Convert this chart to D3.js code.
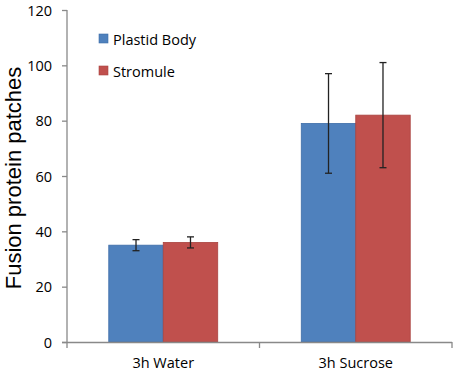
<!DOCTYPE html>
<html lang="en">
    <head>
        <meta charset="utf-8">
        <title>Fusion protein patches</title>
        <script src="https://d3js.org/d3.v7.min.js"></script>
        <style type="text/css">
            body { margin: 0; background: #fff; }
            .tick-label { font-family: "Open Sans", sans-serif; font-size: 14.5px; fill: #000; }
            .legend-label { font-family: "Open Sans", sans-serif; font-size: 14.5px; fill: #000; }
            .y-title { font-family: "Liberation Sans", Arial, sans-serif; font-size: 22px; fill: #000; }
        </style>
    </head>
    <body>
        <svg width="454" height="372"></svg>
        <script type="text/javascript">

            // data
            const categories = ["3h Water", "3h Sucrose"];
            const seriesNames = ["Plastid Body", "Stromule"];
            const plastidBody = [35, 79];
            const stromule = [36, 82];
            const plastidErr = [2, 18];
            const stromuleErr = [2, 19];
            const yTicks = [0, 20, 40, 60, 80, 100, 120];

            const colors = ["#4F81BD", "#C0504D"];
            const borders = ["#3F6EA8", "#A94440"];
            const axisColor = "#898989";

            const svg = d3.select("svg");
            const plotLeft = 67, plotRight = 452, plotTop = 10, plotBottom = 342;

            // build rows for drawing
            const values = [plastidBody, stromule];
            const errors = [plastidErr, stromuleErr];
            const rows = [];
            categories.forEach((c, ci) => {
                seriesNames.forEach((s, si) => {
                    rows.push({cat: c, series: s, si: si, value: values[si][ci], err: errors[si][ci]});
                });
            });

            const xScale = d3.scaleBand()
                             .domain(categories)
                             .range([plotLeft, plotRight])
                             .paddingInner(0.434)
                             .paddingOuter(0.217);

            const xSub = d3.scaleBand()
                           .domain(seriesNames)
                           .range([0, xScale.bandwidth()]);

            const yScale = d3.scaleLinear()
                             .domain([0, 120])
                             .range([plotBottom, plotTop]);

            // y axis
            const yAxis = svg.append("g")
                             .attr("transform", `translate(${plotLeft},0)`)
                             .call(d3.axisLeft(yScale).tickValues(yTicks).tickSize(5).tickFormat(d3.format("d")));
            yAxis.attr("font-size", null).attr("font-family", null);
            yAxis.select(".domain").attr("stroke", axisColor).attr("stroke-width", 1.3)
                 .attr("d", `M0,${plotTop}V${plotBottom}`);
            yAxis.selectAll(".tick line").attr("stroke", axisColor).attr("stroke-width", 1.3);
            yAxis.selectAll(".tick text")
                 .attr("class", "tick-label")
                 .attr("x", -15)
                 .attr("dy", "0.36em");

            // bars
            svg.append("g")
               .selectAll("rect")
               .data(rows)
               .enter()
               .append("rect")
               .attr("x", d => xScale(d.cat) + xSub(d.series))
               .attr("y", d => yScale(d.value))
               .attr("width", xSub.bandwidth())
               .attr("height", d => yScale(0) - yScale(d.value))
               .attr("fill", d => colors[d.si])
               .attr("stroke", d => borders[d.si])
               .attr("stroke-width", 0.8);

            // error bars
            const eb = svg.append("g")
                          .selectAll("g")
                          .data(rows)
                          .enter()
                          .append("g")
                          .attr("stroke", "#222")
                          .attr("stroke-width", 1.3);
            const cx = d => xScale(d.cat) + xSub(d.series) + xSub.bandwidth() / 2;
            eb.append("line")
              .attr("x1", cx).attr("x2", cx)
              .attr("y1", d => yScale(d.value + d.err))
              .attr("y2", d => yScale(d.value - d.err));
            eb.append("line")
              .attr("x1", d => cx(d) - 3.5).attr("x2", d => cx(d) + 3.5)
              .attr("y1", d => yScale(d.value + d.err))
              .attr("y2", d => yScale(d.value + d.err));
            eb.append("line")
              .attr("x1", d => cx(d) - 3.5).attr("x2", d => cx(d) + 3.5)
              .attr("y1", d => yScale(d.value - d.err))
              .attr("y2", d => yScale(d.value - d.err));

            // x axis (category boundaries get ticks, like excel)
            const xg = svg.append("g").attr("stroke", axisColor).attr("stroke-width", 1.3);
            xg.append("line")
              .attr("x1", plotLeft - 5).attr("x2", plotRight)
              .attr("y1", plotBottom + 0.5).attr("y2", plotBottom + 0.5);
            const step = xScale.step();
            const bounds = [plotLeft, plotLeft + step, plotLeft + 2 * step];
            xg.selectAll(".xt")
              .data(bounds)
              .enter()
              .append("line")
              .attr("x1", d => d).attr("x2", d => d)
              .attr("y1", plotBottom).attr("y2", plotBottom + 6);

            svg.append("g")
               .selectAll("text")
               .data(categories)
               .enter()
               .append("text")
               .attr("class", "tick-label")
               .attr("x", d => xScale(d) + xScale.bandwidth() / 2)
               .attr("y", 368)
               .attr("text-anchor", "middle")
               .text(d => d);

            // y title
            svg.append("text")
               .attr("class", "y-title")
               .attr("transform", "translate(21,178) rotate(-90)")
               .attr("text-anchor", "middle")
               .text("Fusion protein patches");

            // legend
            const legend = svg.append("g")
                              .selectAll("g")
                              .data(seriesNames)
                              .enter()
                              .append("g")
                              .attr("transform", (d, i) => `translate(99,${34 + i * 32})`);
            legend.append("rect")
                  .attr("width", 9).attr("height", 9)
                  .attr("fill", (d, i) => colors[i])
                  .attr("stroke", (d, i) => borders[i])
                  .attr("stroke-width", 0.6);
            legend.append("text")
                  .attr("class", "legend-label")
                  .attr("x", 14)
                  .attr("y", 10.5)
                  .text(d => d);

        </script>
    </body>
</html>
